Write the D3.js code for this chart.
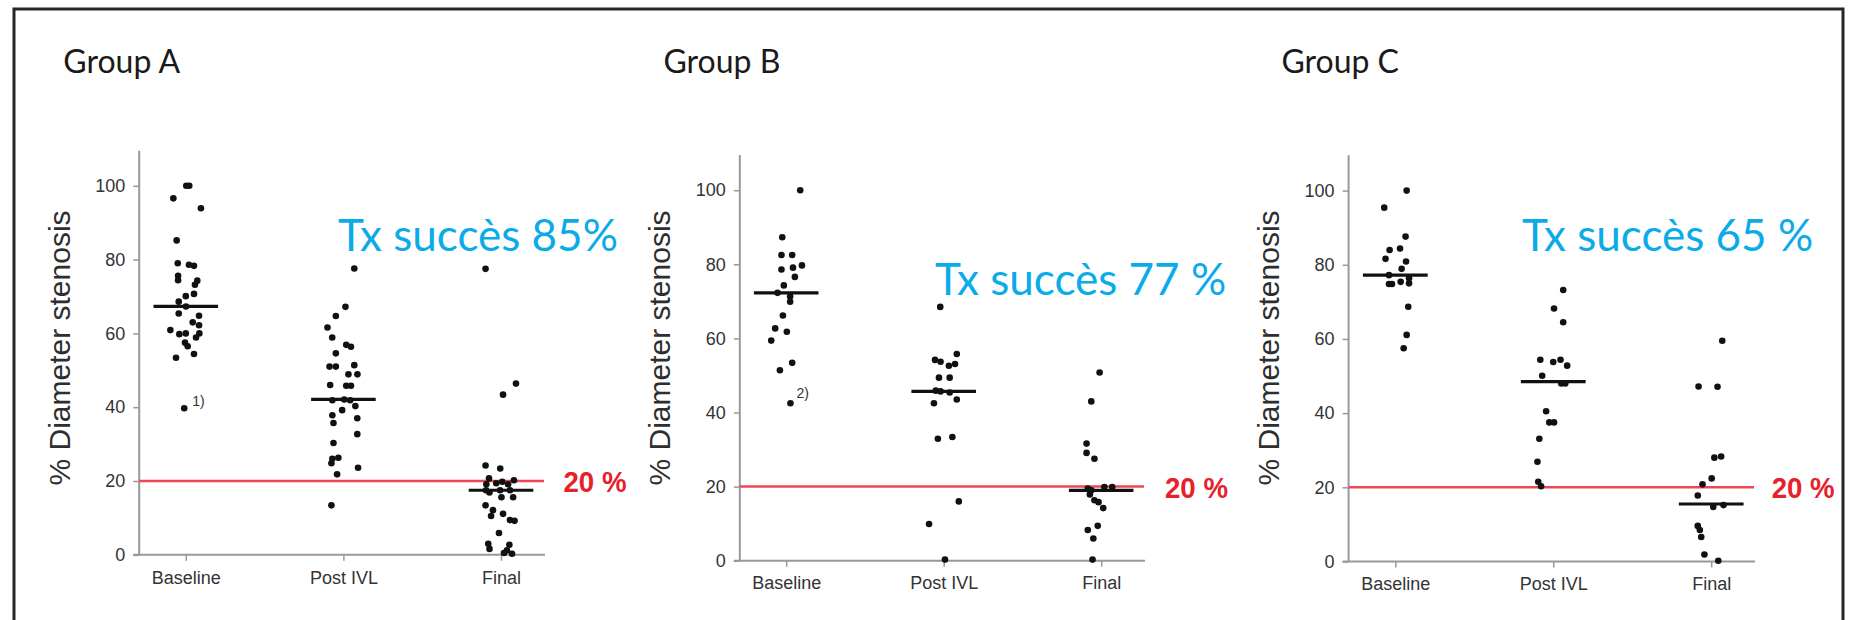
<!DOCTYPE html>
<html>
<head>
<meta charset="utf-8">
<script src="https://cdn.jsdelivr.net/npm/d3@7"></script>
<style>
  html, body { margin: 0; padding: 0; background: #fff; }
  svg { display: block; }
</style>
</head>
<body>
<script>
// ---------------- DATA ----------------
const categories = ["Baseline", "Post IVL", "Final"];
const yTicks = [0, 20, 40, 60, 80, 100];
const groupNames = ["Group A", "Group B", "Group C"];
const successLabels = ["Tx succès 85%", "Tx succès 77 %", "Tx succès 65 %"];
const thresholdValue = 20;
const thresholdLabel = "20 %";
const yTitle = "% Diameter stenosis";

// each point: [value (% diameter stenosis), horizontal jitter in category units]
const groupA_baseline = [[100,0.003],[100,0.022],[96.6,-0.079],[93.9,0.096],[85.2,-0.058],[79.0,-0.051],[78.6,0.020],[78.3,0.052],[75.6,-0.049],[74.4,-0.049],[74.3,0.073],[73.2,0.058],[70.7,0.052],[70.1,0],[68.6,-0.045],[67.3,0.001],[65.4,-0.045],[64.8,0.084],[63.0,0.044],[62.2,0.084],[60.9,-0.098],[60.0,0],[59.8,-0.041],[60.0,0.086],[58.9,0.065],[57.5,-0.005],[56.5,0.012],[54.4,0.052],[53.4,-0.062],[39.7,-0.010]];
const groupA_postIVL = [[77.6,0.069],[67.2,0.013],[64.7,-0.048],[61.6,-0.101],[58.9,-0.071],[56.9,0.018],[56.4,0.048],[54.6,-0.048],[51.4,0.069],[51.0,-0.088],[51.0,-0.048],[48.9,0.032],[48.9,0.089],[46.0,-0.084],[45.8,0.018],[45.8,0.048],[42.1,0.005],[41.9,-0.070],[41.9,0.043],[40.3,0.076],[39.2,-0.008],[37.8,-0.070],[37.0,0.088],[35.7,-0.063],[32.7,0.088],[30.3,-0.063],[26.3,-0.032],[26.0,-0.070],[24.8,-0.076],[23.6,0.093],[21.8,-0.040],[13.4,-0.076]];
const groupA_final = [[77.5,-0.098],[46.4,0.095],[43.4,0.013],[24.2,-0.098],[23.4,-0.005],[20.7,-0.076],[20.2,0.082],[19.8,0.008],[19.4,-0.030],[19.1,-0.093],[19.1,0.045],[17.5,-0.095],[17.5,-0.006],[17.5,0.057],[16.9,-0.073],[15.6,0.003],[15.6,0.077],[13.4,-0.098],[12.1,-0.051],[11.1,0.013],[10.5,-0.063],[9.4,0.057],[9.2,0.086],[5.9,-0.013],[3.0,-0.081],[2.7,0.053],[1.6,-0.073],[1.2,0.038],[0.5,0.019],[0.3,0.070]];

const groupB_baseline = [[100,0.089],[87.3,-0.025],[82.5,-0.030],[82.5,0.038],[79.7,0.100],[79.1,0.043],[78.6,-0.030],[76.6,0.055],[74.3,-0.015],[72.3,-0.055],[71.3,0.025],[69.9,0.025],[66.2,-0.021],[62.7,-0.070],[61.8,0.004],[59.4,-0.095],[53.4,0.038],[51.4,-0.040],[42.5,0.027]];
const groupB_postIVL = [[68.5,-0.022],[55.8,0.083],[54.2,-0.055],[53.7,-0.020],[53.1,0.072],[52.6,0.033],[49.4,-0.030],[49.4,0.038],[45.9,-0.050],[45.7,-0.020],[45.4,0.038],[43.5,0.083],[42.5,-0.062],[33.4,0.055],[32.9,-0.037],[16.0,0.096],[9.9,-0.093],[0.3,0.008]];
const groupB_final = [[50.8,-0.010],[43.0,-0.063],[31.6,-0.093],[29.1,-0.093],[27.5,-0.043],[19.9,0.020],[19.9,0.070],[19.5,-0.085],[19.0,-0.063],[17.9,-0.072],[16.3,-0.043],[15.8,-0.017],[14.2,0.013],[9.4,-0.022],[8.3,-0.085],[6.0,-0.050],[0.3,-0.055]];

const groupC_baseline = [[100,0.072],[95.4,-0.070],[87.6,0.065],[84.4,0.030],[84.0,-0.036],[81.6,-0.062],[80.9,0.068],[78.9,0.040],[77.2,-0.040],[76.4,0.087],[75.4,0.034],[75.0,0.087],[74.8,-0.040],[74.8,-0.021],[68.7,0.082],[61.1,0.072],[57.5,0.053]];
const groupC_postIVL = [[73.2,0.063],[68.2,0.005],[64.5,0.063],[54.4,-0.082],[54.4,0.046],[53.8,0],[52.8,0.088],[50.1,-0.070],[48.0,0.051],[48.0,0.076],[40.5,-0.045],[37.5,-0.025],[37.5,0.005],[33.1,-0.088],[26.9,-0.100],[21.5,-0.095],[20.3,-0.077]];
const groupC_final = [[59.5,0.070],[47.2,-0.080],[47.1,0.040],[28.3,0.063],[28.0,0.020],[22.4,0.003],[20.8,-0.055],[17.8,-0.085],[15.2,0.078],[14.7,0.013],[9.6,-0.085],[8.5,-0.072],[6.6,-0.063],[1.9,-0.043],[0.2,0.045]];

const mediansA = [67.3, 42.1, 17.5];
const mediansB = [72.3, 45.7, 19.0];
const mediansC = [77.2, 48.5, 15.5];

// footnote markers: [category index, value, jitter, text]
const notesA = [[0, 39.7, -0.010, "1)"]];
const notesB = [[0, 42.5, 0.027, "2)"]];
const notesC = [];

// ---------------- LAYOUT (positions only) ----------------
const panels = [
  { series: [groupA_baseline, groupA_postIVL, groupA_final], medians: mediansA, notes: notesA,
    ax: 139.2, y0: 554.8, y100: 185.8, c0: 185.8, c2: 501.0, xr: 545.0,
    titleX: 63.3, succX: 338, succY: 251, redX: 563.5, noteDx: 8, noteDy: -2 },
  { series: [groupB_baseline, groupB_postIVL, groupB_final], medians: mediansB, notes: notesB,
    ax: 739.8, y0: 560.7, y100: 190.2, c0: 786.2, c2: 1101.2, xr: 1145.0,
    titleX: 663.5, succX: 935, succY: 294.6, redX: 1165, noteDx: 6, noteDy: -5 },
  { series: [groupC_baseline, groupC_postIVL, groupC_final], medians: mediansC, notes: notesC,
    ax: 1348.6, y0: 561.5, y100: 190.6, c0: 1395.3, c2: 1711.2, xr: 1755.0,
    titleX: 1281.4, succX: 1522, succY: 251, redX: 1771.7, noteDx: 8, noteDy: -2 }
];

const W = 1849, H = 620;
const svg = d3.select("body").append("svg").attr("width", W).attr("height", H);
svg.append("rect").attr("width", W).attr("height", H).attr("fill", "#fff");

// outer frame
svg.append("rect")
  .attr("x", 14).attr("y", 9).attr("width", 1829).attr("height", 700)
  .attr("fill", "none").attr("stroke", "#262626").attr("stroke-width", 3);

const axisFont = "'Liberation Sans', Arial, sans-serif";

panels.forEach((p, i) => {
  const g = svg.append("g");
  const y = d3.scaleLinear().domain([0, 100]).range([p.y0, p.y100]);
  const xCat = d3.scalePoint().domain(categories).range([p.c0, p.c2]);
  const xJ = d3.scaleLinear().domain([0, 2]).range([p.c0, p.c2]);

  // group title
  g.append("text").attr("x", p.titleX).attr("y", 73)
    .attr("font-family", "Lato, 'Open Sans', sans-serif").attr("font-size", 32)
    .attr("fill", "#1a1a1a").text(groupNames[i]);

  // y axis
  const ya = g.append("g").attr("transform", `translate(${p.ax},0)`)
    .call(d3.axisLeft(y).tickValues(yTicks).tickSize(6).tickPadding(8).tickSizeOuter(0));
  ya.select(".domain").remove();
  ya.selectAll(".tick line").attr("stroke", "#999").attr("stroke-width", 1.5);
  ya.selectAll(".tick text").attr("font-family", axisFont).attr("font-size", 18).attr("fill", "#333");
  g.append("line").attr("x1", p.ax).attr("x2", p.ax)
    .attr("y1", y(0)).attr("y2", y(109.5))
    .attr("stroke", "#999").attr("stroke-width", 2);

  // x axis
  const xa = g.append("g").attr("transform", `translate(0,${y(0)})`)
    .call(d3.axisBottom(xCat).tickSize(6).tickPadding(10).tickSizeOuter(0));
  xa.select(".domain").remove();
  xa.selectAll(".tick line").attr("stroke", "#999").attr("stroke-width", 1.5);
  xa.selectAll(".tick text").attr("font-family", axisFont).attr("font-size", 18).attr("fill", "#333");
  g.append("line").attr("x1", p.ax - 6).attr("x2", p.xr)
    .attr("y1", y(0)).attr("y2", y(0))
    .attr("stroke", "#999").attr("stroke-width", 2);

  // y title
  g.append("text")
    .attr("transform", `translate(${p.ax - 80},348) rotate(-90)`)
    .attr("text-anchor", "middle").attr("dy", "0.35em")
    .attr("font-family", axisFont).attr("font-size", 30).attr("fill", "#2e2e2e")
    .text(yTitle);

  // threshold line
  g.append("line").attr("x1", p.ax).attr("x2", p.xr - 1)
    .attr("y1", y(thresholdValue)).attr("y2", y(thresholdValue))
    .attr("stroke", "#ee4655").attr("stroke-width", 2.5);
  g.append("text").attr("x", p.redX).attr("y", y(thresholdValue) + 11)
    .attr("font-family", axisFont).attr("font-weight", "bold").attr("font-size", 29)
    .attr("textLength", 63).attr("lengthAdjust", "spacingAndGlyphs")
    .attr("fill", "#e8202c").text(thresholdLabel);

  // points
  p.series.forEach((ser, ci) => {
    g.append("g").selectAll("circle").data(ser).join("circle")
      .attr("cx", d => xJ(ci + d[1]))
      .attr("cy", d => y(d[0]))
      .attr("r", 3.3)
      .attr("fill", "#111");
  });

  // median bars
  g.append("g").selectAll("line").data(p.medians).join("line")
    .attr("x1", (d, ci) => xJ(ci - 0.205))
    .attr("x2", (d, ci) => xJ(ci + 0.205))
    .attr("y1", d => y(d)).attr("y2", d => y(d))
    .attr("stroke", "#111").attr("stroke-width", 3.2);

  // notes
  g.append("g").selectAll("text").data(p.notes).join("text")
    .attr("x", d => xJ(d[0] + d[2]) + p.noteDx)
    .attr("y", d => y(d[1]) + p.noteDy)
    .attr("font-family", axisFont).attr("font-size", 14).attr("fill", "#333")
    .text(d => d[3]);

  // success label
  g.append("text").attr("x", p.succX).attr("y", p.succY)
    .attr("font-family", "Lato, 'Open Sans', sans-serif").attr("font-size", 44)
    .attr("fill", "#0aabe8").text(successLabels[i]);
});
</script>
</body>
</html>
